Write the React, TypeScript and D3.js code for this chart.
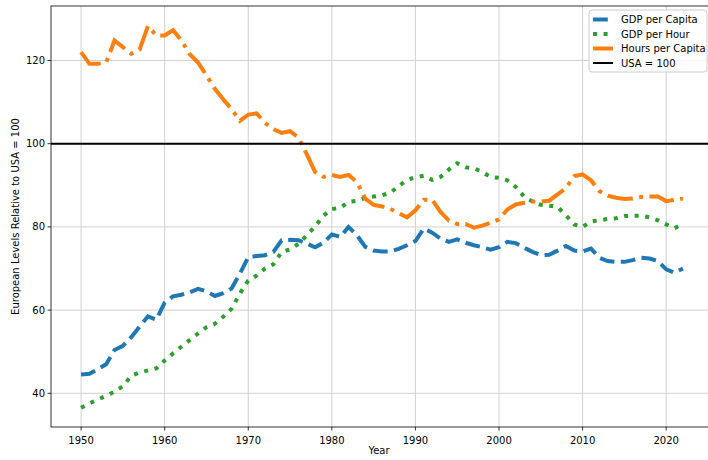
import React from 'react';
import * as d3 from 'd3';

const years = d3.range(1950, 2023);

const gdpPerCapita = [
  44.5, 44.7, 45.8, 47.0, 50.4, 51.4, 53.5, 56.0, 58.5, 57.7,
  61.8, 63.3, 63.7, 64.3, 65.1, 64.5, 63.4, 64.1, 65.2, 68.8,
  72.7, 73.0, 73.2, 74.0, 76.8, 76.9, 76.8, 76.0, 75.1, 76.2,
  78.2, 77.6, 80.0, 78.0, 75.2, 74.3, 74.1, 74.1, 74.7, 75.6,
  76.6, 79.6, 78.6, 77.2, 76.4, 77.0, 76.2, 75.6, 75.1, 74.5,
  75.1, 76.4, 76.1, 75.0, 74.0, 73.2, 73.3, 74.3, 75.4, 74.3,
  74.1, 74.8, 72.6, 71.8, 71.6, 71.6, 72.0, 72.6, 72.4, 71.8,
  69.8, 69.0, 70.0,
];

const gdpPerHour = [
  36.5, 37.6, 38.5, 39.4, 40.4, 41.7, 44.2, 45.0, 45.5, 46.0,
  47.9, 49.6, 51.2, 52.8, 54.4, 55.9, 56.7, 58.4, 60.3, 64.0,
  67.1, 68.3, 70.0, 71.0, 74.0, 74.6, 75.9, 78.0, 80.1, 82.7,
  84.3, 84.6, 86.0, 86.3, 87.0, 87.3, 87.6, 88.2, 89.8, 91.3,
  91.9, 92.3, 91.3, 92.0, 93.8, 95.3, 94.3, 94.1, 93.2, 92.0,
  91.8, 91.2, 89.6, 87.3, 86.1, 85.3, 85.1, 84.8, 82.8, 80.6,
  80.0, 81.3, 81.6, 81.9, 82.1, 82.6, 82.7, 82.7, 82.3, 81.6,
  80.6, 79.7, 80.7,
];

const hoursPerCapita = [
  122.0, 119.2, 119.2, 119.5, 124.8, 123.2, 121.6, 122.6, 128.3, 126.0,
  126.0, 127.3, 124.8, 121.5, 119.5, 116.4, 113.2, 110.7, 108.3, 105.5,
  107.0, 107.3, 105.0, 103.5, 102.6, 103.0, 101.5, 97.5, 93.2, 92.0,
  92.5, 92.0, 92.5, 90.8, 86.8, 85.3, 84.9, 84.3, 83.3, 82.3,
  84.0, 86.5, 86.5, 83.6, 81.5, 80.7, 80.7, 79.8, 80.3, 81.0,
  81.8, 84.2, 85.4, 85.8, 86.1, 86.1, 86.3, 87.8, 89.3, 92.2,
  92.6, 91.2, 88.6, 87.5, 87.0, 86.7, 86.8, 87.2, 87.3, 87.3,
  86.2, 86.5, 86.8,
];

const seriesNames = ['GDP per Capita', 'GDP per Hour', 'Hours per Capita'];
const seriesColors = ['#1f77b4', '#2ca02c', '#ff7f0e'];
const seriesDashes = ['14.8,6.4', '4,6.6', '25.6,6.4,4,6.4'];
const refLabel = 'USA = 100';
const refValue = 100;

const xTicks = [1950, 1960, 1970, 1980, 1990, 2000, 2010, 2020];
const yTicks = [40, 60, 80, 100, 120];

const W = 708;
const H = 460;
const plot = { left: 51, top: 6, right: 713, bottom: 427 };
const font = 'DejaVu Sans, sans-serif';

export default function App() {
  const x = d3.scaleLinear().domain([1946.4, 2025.6]).range([plot.left, plot.right]);
  const y = d3.scaleLinear().domain([31.9, 133.1]).range([plot.bottom, plot.top]);

  const all = [gdpPerCapita, gdpPerHour, hoursPerCapita];
  const line = d3
    .line<number>()
    .x((_, i) => x(years[i]))
    .y((d) => y(d));

  const legendX = 589;
  const legendY = 10;
  const rowH = 14.5;
  const legendItems = [
    ...seriesNames.map((n, i) => ({ name: n, color: seriesColors[i], dash: seriesDashes[i] })),
    { name: refLabel, color: '#000', dash: '' },
  ];

  return (
    <svg
      width={W}
      height={H}
      style={{ position: 'absolute', left: 0, top: 0, background: '#fff' }}
      fontFamily={font}
    >
      <defs>
        <clipPath id="plotclip">
          <rect x={plot.left} y={plot.top} width={plot.right - plot.left} height={plot.bottom - plot.top} />
        </clipPath>
      </defs>

      {/* grid */}
      {xTicks.map((t) => (
        <line key={'gx' + t} x1={x(t)} x2={x(t)} y1={plot.top} y2={plot.bottom} stroke="#d0d0d0" strokeWidth={1} />
      ))}
      {yTicks.map((t) => (
        <line key={'gy' + t} x1={plot.left} x2={plot.right} y1={y(t)} y2={y(t)} stroke="#d0d0d0" strokeWidth={1} />
      ))}

      <g clipPath="url(#plotclip)">
        {all.map((s, i) => (
          <path
            key={i}
            d={line(s) || ''}
            fill="none"
            stroke={seriesColors[i]}
            strokeWidth={4}
            strokeDasharray={seriesDashes[i]}
          />
        ))}
        <line x1={plot.left} x2={plot.right} y1={y(refValue)} y2={y(refValue)} stroke="#000" strokeWidth={2} />
      </g>

      {/* spines */}
      <rect
        x={plot.left}
        y={plot.top}
        width={plot.right - plot.left}
        height={plot.bottom - plot.top}
        fill="none"
        stroke="#000"
        strokeWidth={0.8}
      />

      {/* x axis */}
      {xTicks.map((t) => (
        <g key={'xt' + t} transform={`translate(${x(t)},${plot.bottom})`}>
          <line y2={3.5} stroke="#000" strokeWidth={0.8} />
          <text y={17} textAnchor="middle" fontSize={10} fill="#000">
            {t}
          </text>
        </g>
      ))}
      <text x={(plot.left + plot.right) / 2 - 3} y={454} textAnchor="middle" fontSize={10} fill="#000">
        Year
      </text>

      {/* y axis */}
      {yTicks.map((t) => (
        <g key={'yt' + t} transform={`translate(${plot.left},${y(t)})`}>
          <line x2={-3.5} stroke="#000" strokeWidth={0.8} />
          <text x={-6} dy="0.35em" textAnchor="end" fontSize={10} fill="#000">
            {t}
          </text>
        </g>
      ))}
      <text
        transform={`translate(19,${(plot.top + plot.bottom) / 2}) rotate(-90)`}
        textAnchor="middle"
        fontSize={10}
        fill="#000"
      >
        European Levels Relative to USA = 100
      </text>

      {/* legend */}
      <rect
        x={legendX}
        y={legendY}
        width={118}
        height={62}
        rx={3}
        fill="#fff"
        fillOpacity={0.8}
        stroke="#ccc"
        strokeWidth={1}
      />
      {legendItems.map((it, i) => {
        const cy = legendY + 9.5 + i * rowH;
        return (
          <g key={it.name}>
            <line
              x1={legendX + 4}
              x2={legendX + 24}
              y1={cy}
              y2={cy}
              stroke={it.color}
              strokeWidth={i === 3 ? 2 : 4}
              strokeDasharray={it.dash || undefined}
            />
            <text x={legendX + 32} y={cy} dy="0.35em" fontSize={10} fill="#000">
              {it.name}
            </text>
          </g>
        );
      })}
    </svg>
  );
}
